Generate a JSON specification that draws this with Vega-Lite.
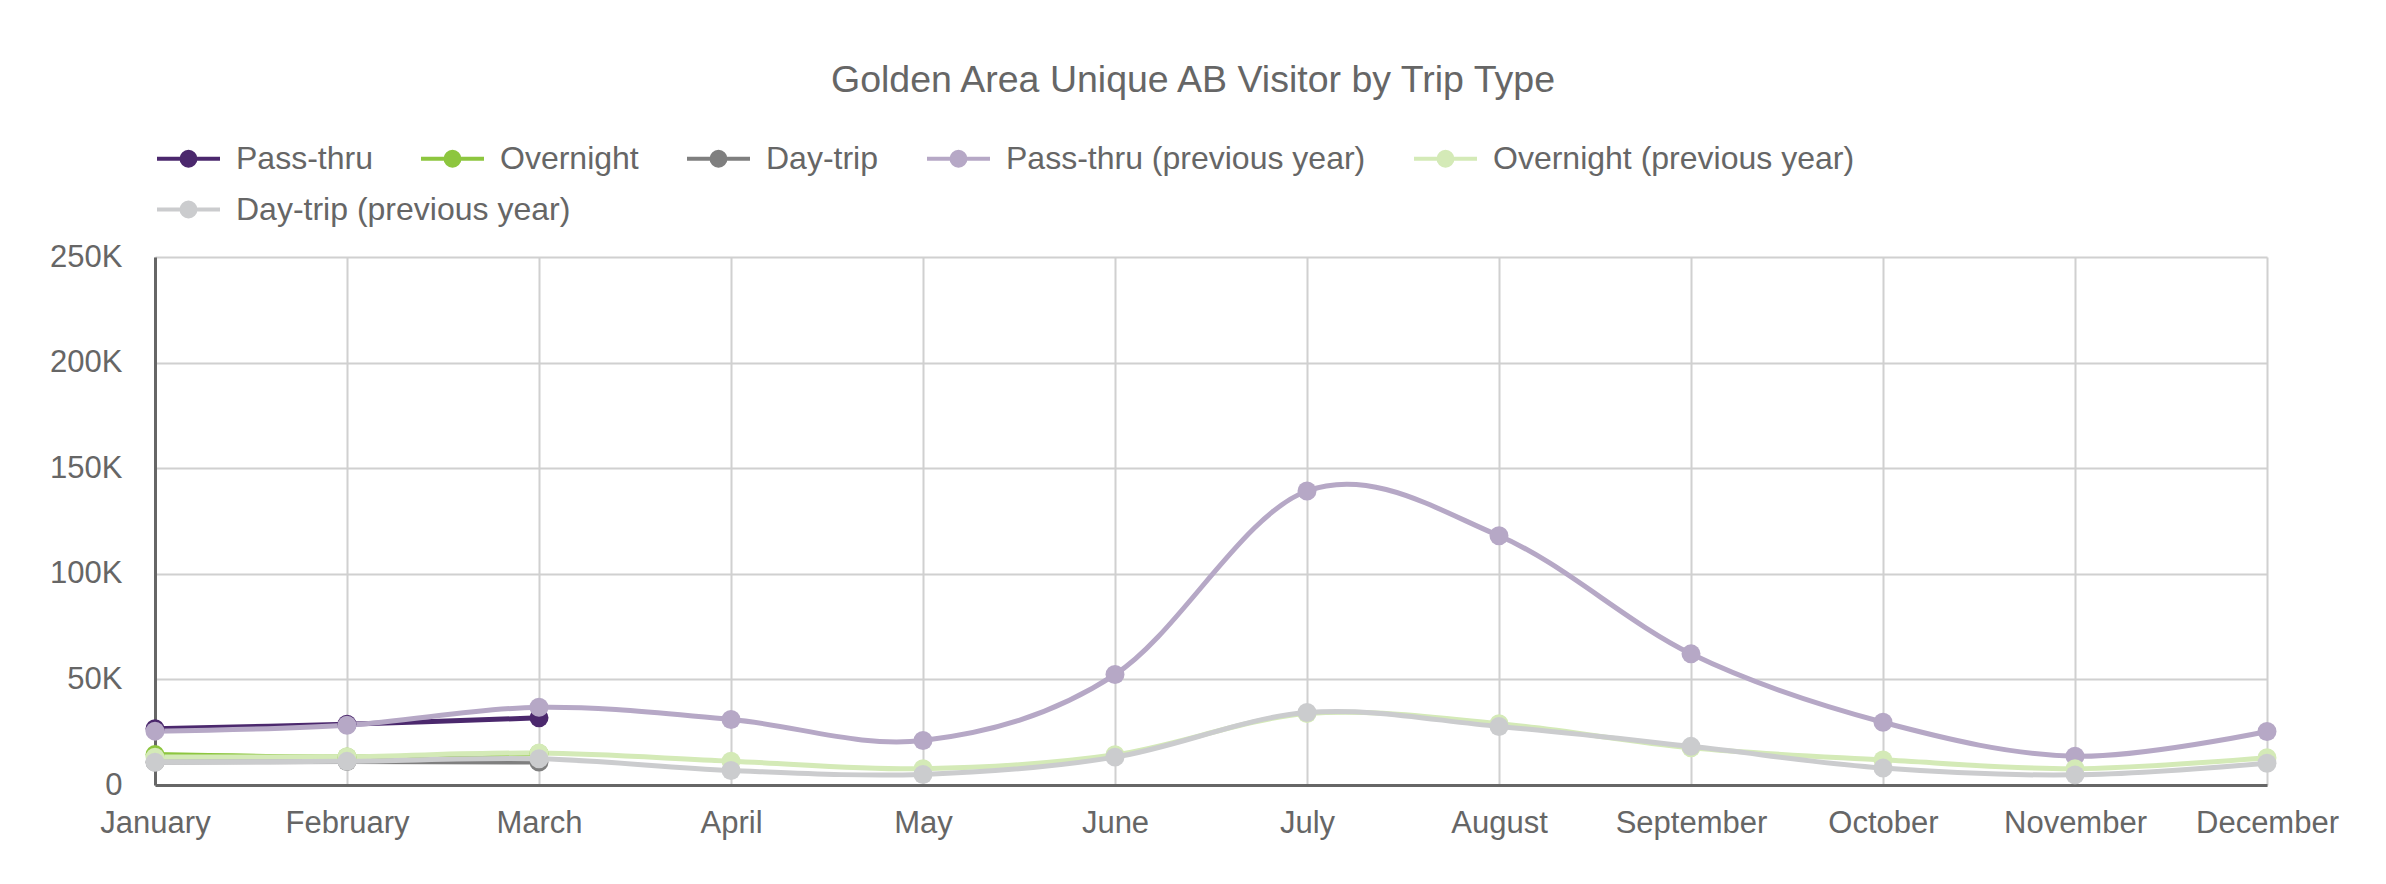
{
  "$schema": "https://vega.github.io/schema/vega-lite/v6.json",
  "width": 2112,
  "height": 528,
  "autosize": {"type": "none"},
  "padding": {"left": 155, "top": 257, "right": 119, "bottom": 99},
  "background": "white",
  "title": {
    "text": "Golden Area Unique AB Visitor by Trip Type",
    "font": "Liberation Sans",
    "fontSize": 37.5,
    "fontWeight": "normal",
    "color": "#666666",
    "anchor": "middle",
    "dx": -18,
    "offset": 26
  },
  "data": {
    "values": [
      {"month": "January", "series": "Pass-thru", "value": 26600},
      {"month": "February", "series": "Pass-thru", "value": 28800},
      {"month": "March", "series": "Pass-thru", "value": 31800},
      {"month": "January", "series": "Overnight", "value": 14400},
      {"month": "February", "series": "Overnight", "value": 13300},
      {"month": "March", "series": "Overnight", "value": 14900},
      {"month": "January", "series": "Day-trip", "value": 10900},
      {"month": "February", "series": "Day-trip", "value": 11100},
      {"month": "March", "series": "Day-trip", "value": 10900},
      {"month": "January", "series": "Pass-thru (previous year)", "value": 25500},
      {"month": "February", "series": "Pass-thru (previous year)", "value": 28300},
      {"month": "March", "series": "Pass-thru (previous year)", "value": 36800},
      {"month": "April", "series": "Pass-thru (previous year)", "value": 31000},
      {"month": "May", "series": "Pass-thru (previous year)", "value": 21100},
      {"month": "June", "series": "Pass-thru (previous year)", "value": 52300},
      {"month": "July", "series": "Pass-thru (previous year)", "value": 139200},
      {"month": "August", "series": "Pass-thru (previous year)", "value": 118000},
      {"month": "September", "series": "Pass-thru (previous year)", "value": 62100},
      {"month": "October", "series": "Pass-thru (previous year)", "value": 29700},
      {"month": "November", "series": "Pass-thru (previous year)", "value": 13600},
      {"month": "December", "series": "Pass-thru (previous year)", "value": 25300},
      {"month": "January", "series": "Overnight (previous year)", "value": 13200},
      {"month": "February", "series": "Overnight (previous year)", "value": 13400},
      {"month": "March", "series": "Overnight (previous year)", "value": 15100},
      {"month": "April", "series": "Overnight (previous year)", "value": 11300},
      {"month": "May", "series": "Overnight (previous year)", "value": 7700},
      {"month": "June", "series": "Overnight (previous year)", "value": 14300},
      {"month": "July", "series": "Overnight (previous year)", "value": 33800},
      {"month": "August", "series": "Overnight (previous year)", "value": 29000},
      {"month": "September", "series": "Overnight (previous year)", "value": 17600},
      {"month": "October", "series": "Overnight (previous year)", "value": 11900},
      {"month": "November", "series": "Overnight (previous year)", "value": 7700},
      {"month": "December", "series": "Overnight (previous year)", "value": 12900},
      {"month": "January", "series": "Day-trip (previous year)", "value": 10800},
      {"month": "February", "series": "Day-trip (previous year)", "value": 11200},
      {"month": "March", "series": "Day-trip (previous year)", "value": 12400},
      {"month": "April", "series": "Day-trip (previous year)", "value": 6900},
      {"month": "May", "series": "Day-trip (previous year)", "value": 5000},
      {"month": "June", "series": "Day-trip (previous year)", "value": 13200},
      {"month": "July", "series": "Day-trip (previous year)", "value": 34300},
      {"month": "August", "series": "Day-trip (previous year)", "value": 27700},
      {"month": "September", "series": "Day-trip (previous year)", "value": 18300},
      {"month": "October", "series": "Day-trip (previous year)", "value": 8000},
      {"month": "November", "series": "Day-trip (previous year)", "value": 4800},
      {"month": "December", "series": "Day-trip (previous year)", "value": 10300}
    ]
  },
  "encoding": {
    "x": {
      "field": "month",
      "type": "ordinal",
      "sort": ["January", "February", "March", "April", "May", "June", "July", "August", "September", "October", "November", "December"],
      "scale": {"type": "point", "padding": 0},
      "axis": {
        "title": null,
        "labelAngle": 0,
        "labelFont": "Liberation Sans",
        "labelFontSize": 31,
        "labelColor": "#666666",
        "labelPadding": 23,
        "ticks": false,
        "domainColor": "#666666",
        "domainWidth": 3,
        "gridColor": "#d0d0d0",
        "gridWidth": 2,
        "grid": true
      }
    },
    "y": {
      "field": "value",
      "type": "quantitative",
      "scale": {"domain": [0, 250000], "nice": false},
      "axis": {
        "title": null,
        "values": [0, 50000, 100000, 150000, 200000, 250000],
        "labelExpr": "datum.value == 0 ? '0' : (datum.value / 1000) + 'K'",
        "labelFont": "Liberation Sans",
        "labelFontSize": 31,
        "labelColor": "#666666",
        "labelPadding": 33,
        "ticks": false,
        "domainColor": "#666666",
        "domainWidth": 3,
        "gridColor": "#d0d0d0",
        "gridWidth": 2,
        "grid": true
      }
    }
  },
  "layer": [
    {
      "transform": [{"filter": "datum.series != 'Day-trip (previous year)'"}],
      "encoding": {
        "color": {
          "field": "series",
          "type": "nominal",
          "sort": ["Pass-thru", "Overnight", "Day-trip", "Pass-thru (previous year)", "Overnight (previous year)"],
          "scale": {
            "domain": ["Pass-thru", "Overnight", "Day-trip", "Pass-thru (previous year)", "Overnight (previous year)"],
            "range": ["#4B286D", "#8DC63F", "#7F7F7F", "#B6A8C6", "#D4EAB7"]
          },
          "legend": {
            "title": null,
            "orient": "top",
            "direction": "horizontal",
            "symbolType": "M-1,0L1,0M-0.222,0A0.222,0.222,0,1,1,0.222,0A0.222,0.222,0,1,1,-0.222,0Z",
            "symbolSize": 3969,
            "symbolStrokeWidth": 4,
            "labelFont": "Liberation Sans",
            "labelFontSize": 32,
            "labelColor": "#666666",
            "labelLimit": 0,
            "labelOffset": 14,
            "columnPadding": 40,
            "offset": 82,
            "padding": 0,
            "encode": {
              "symbols": {
                "update": {
                  "fill": {"scale": "color", "field": "value"},
                  "stroke": {"scale": "color", "field": "value"},
                  "opacity": {"value": 1},
                  "fillOpacity": {"value": 1}
                }
              }
            }
          }
        }
      },
      "layer": [
        {"mark": {"type": "line", "interpolate": "cardinal", "strokeWidth": 5}},
        {"mark": {"type": "point", "filled": true, "size": 360, "opacity": 1}}
      ]
    },
    {
      "transform": [{"filter": "datum.series == 'Day-trip (previous year)'"}],
      "encoding": {
        "color": {
          "field": "series",
          "type": "nominal",
          "scale": {
            "domain": ["Day-trip (previous year)"],
            "range": ["#CBCCCE"]
          },
          "legend": {
            "title": null,
            "orient": "none",
            "legendX": 0,
            "legendY": -81,
            "direction": "horizontal",
            "symbolType": "M-1,0L1,0M-0.222,0A0.222,0.222,0,1,1,0.222,0A0.222,0.222,0,1,1,-0.222,0Z",
            "symbolSize": 3969,
            "symbolStrokeWidth": 4,
            "labelFont": "Liberation Sans",
            "labelFontSize": 32,
            "labelColor": "#666666",
            "labelLimit": 0,
            "labelOffset": 14,
            "padding": 0,
            "encode": {
              "symbols": {
                "update": {
                  "fill": {"scale": "color_1", "field": "value"},
                  "stroke": {"scale": "color_1", "field": "value"},
                  "opacity": {"value": 1},
                  "fillOpacity": {"value": 1}
                }
              }
            }
          }
        }
      },
      "layer": [
        {"mark": {"type": "line", "interpolate": "cardinal", "strokeWidth": 5}},
        {"mark": {"type": "point", "filled": true, "size": 360, "opacity": 1}}
      ]
    }
  ],
  "resolve": {"scale": {"color": "independent"}, "legend": {"color": "independent"}},
  "config": {
    "view": {"stroke": null},
    "font": "Liberation Sans"
  }
}
